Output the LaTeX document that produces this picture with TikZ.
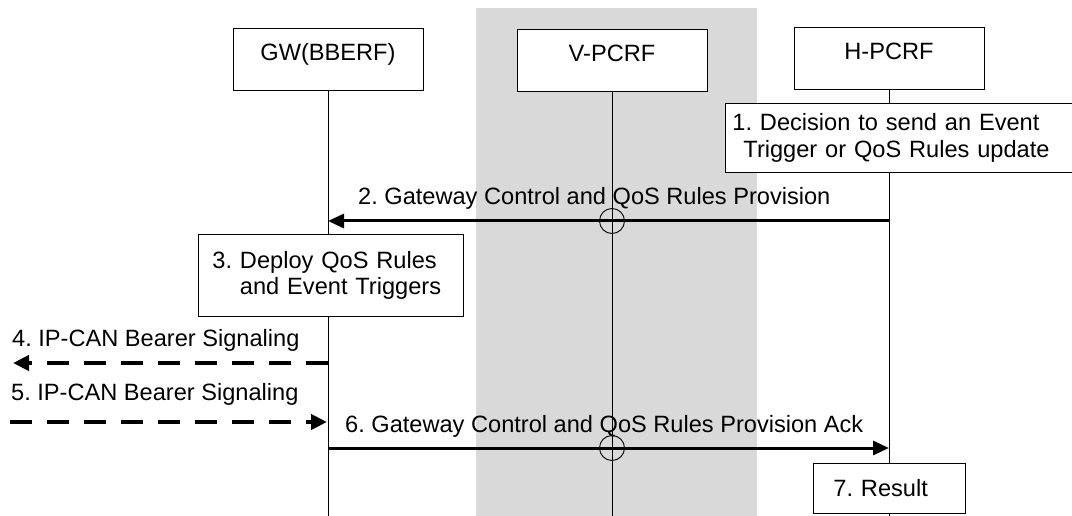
\documentclass[tikz,border=0pt]{standalone}
\usepackage{fontspec}
\setmainfont{Liberation Sans}
\usetikzlibrary{arrows.meta}
\definecolor{band}{RGB}{217,217,217}
\frenchspacing
\begin{document}
\begin{tikzpicture}[x=1pt,y=-1pt,
  every node/.style={font=\fontsize{23.6}{26.5}\selectfont},
  box/.style={draw, line width=0.9pt, fill=white, inner sep=0pt},
  head/.style={box, minimum width=190pt, minimum height=62pt, text height=16pt, text depth=13pt},
  life/.style={line width=1pt},
  msg/.style={line width=3pt, -{Triangle[length=16pt,width=14pt]}},
  sig/.style={line width=4.5pt, dash pattern=on 22pt off 15pt, -{Triangle[length=16pt,width=15pt]}},
  cross/.style={draw, circle, line width=0.9pt, minimum size=25pt, inner sep=0pt},
  lbl/.style={inner sep=0pt, anchor=base west}]
\useasboundingbox (0,0) rectangle (1072,516);
\fill[white] (0,0) rectangle (1072,516);
\fill[band] (476,8) rectangle (757,516);

% heads
\node[head] (gw) at (328,59) {GW(BBERF)};
\node[head] (vp) at (612,60) {V-PCRF};
\node[head] (hp) at (889,58) {H-PCRF};

% lifeline ends
\coordinate (gwe) at (328,516);
\coordinate (vpe) at (612,516);
\coordinate (hpe) at (889,516);
\draw[life] (gw.south) -- (gwe);
\draw[life] (vp.south) -- (vpe);
\draw[life] (hp.south) -- (hpe);

% step 1
\node[box, anchor=north west, minimum width=347pt, minimum height=69pt, text width=333pt, inner xsep=7pt, align=left] (d1) at (725,103)
  {1. Decision to send an Event\\\hspace*{11pt}Trigger or QoS Rules update};

% step 2
\coordinate (h2) at (889,221);
\coordinate (g2) at (328,221);
\draw[msg] (h2) -- (g2);
\node[cross] (c2) at (612,221) {};
\node[lbl] (l2) at (358,205) {2. Gateway Control and QoS Rules Provision};

% step 3
\node[box, anchor=north west, minimum width=265pt, minimum height=82pt, text width=237pt, inner xsep=14pt, align=left] (d3) at (198,234)
  {3. Deploy QoS Rules\\\phantom{3. }and Event Triggers};

% step 4
\coordinate (g4) at (328,363);
\coordinate (o4) at (13,363);
\draw[sig] (g4) -- (o4);
\node[lbl] (l4) at (12,346) {4. IP-CAN Bearer Signaling};

% step 5
\coordinate (o5) at (10,422);
\coordinate (g5) at (327,422);
\draw[sig] (o5) -- (g5);
\node[lbl] (l5) at (11,400) {5. IP-CAN Bearer Signaling};

% step 6
\coordinate (g6) at (328,448);
\coordinate (h6) at (889,448);
\draw[msg] (g6) -- (h6);
\node[cross] (c6) at (612,448) {};
\node[lbl] (l6) at (345,432) {6. Gateway Control and QoS Rules Provision Ack};

% step 7
\node[box, anchor=north west, minimum width=152pt, minimum height=50pt, text width=112pt, inner xsep=20pt, align=left] (d7) at (813,463)
  {7. Result};
\end{tikzpicture}
\end{document}
